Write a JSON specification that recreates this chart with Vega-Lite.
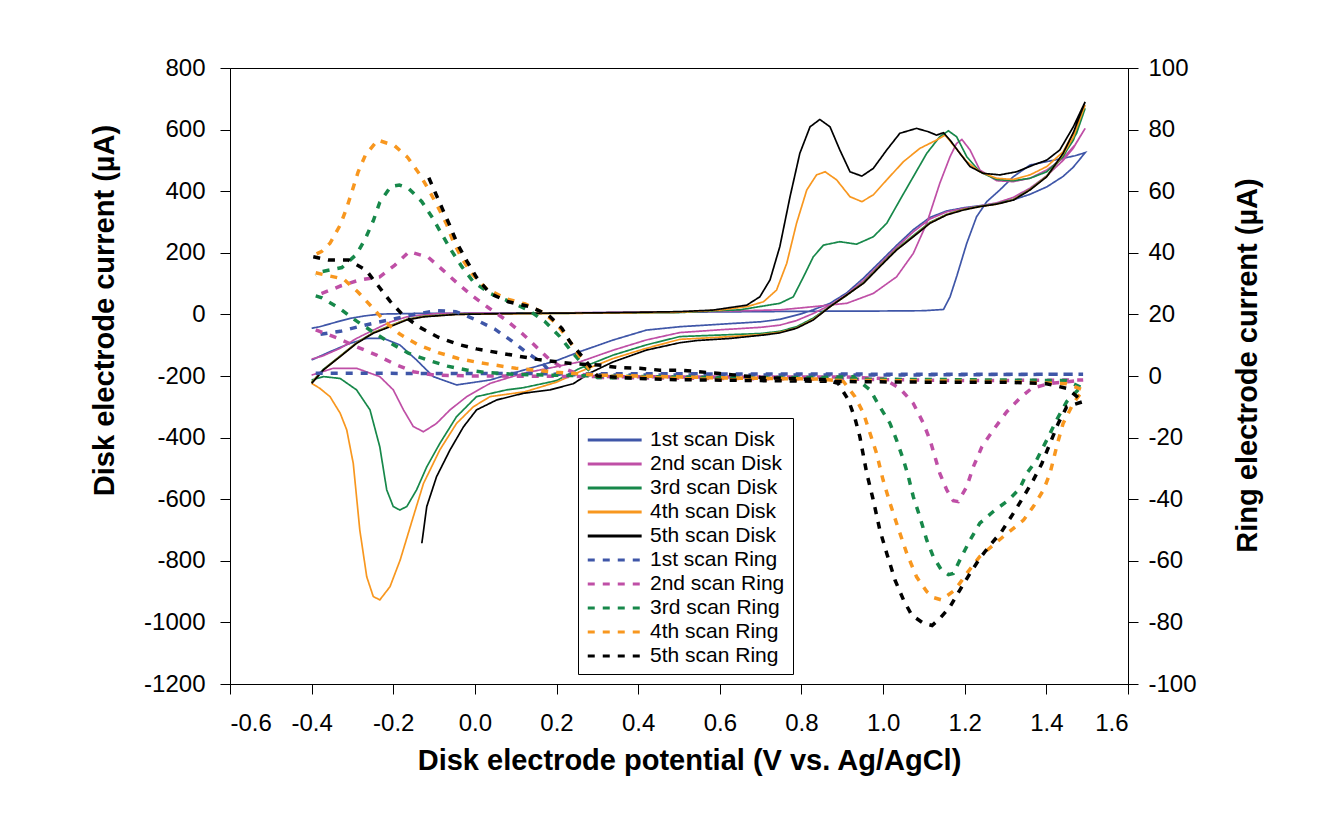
{
"$schema": "https://vega.github.io/schema/vega-lite/v6.json",
"width": 898, "height": 616,
"autosize": {"type": "none"},
"padding": {"left": 230, "top": 68, "right": 208, "bottom": 138},
"background": "white",
"datasets": {
"disk": [
{"s":"1st scan Disk","k":0,"v":-0.40,"c":-45},{"s":"1st scan Disk","k":1,"v":-0.38,"c":-40},{"s":"1st scan Disk","k":2,"v":-0.34,"c":-25},{"s":"1st scan Disk","k":3,"v":-0.306,"c":-13},{"s":"1st scan Disk","k":4,"v":-0.27,"c":-5},{"s":"1st scan Disk","k":5,"v":-0.233,"c":1},{"s":"1st scan Disk","k":6,"v":-0.15,"c":3},{"s":"1st scan Disk","k":7,"v":0.0,"c":4},{"s":"1st scan Disk","k":8,"v":0.2,"c":5},{"s":"1st scan Disk","k":9,"v":0.4,"c":6},{"s":"1st scan Disk","k":10,"v":0.6,"c":8},{"s":"1st scan Disk","k":11,"v":0.8,"c":10},{"s":"1st scan Disk","k":12,"v":1.0,"c":11},{"s":"1st scan Disk","k":13,"v":1.10,"c":12},{"s":"1st scan Disk","k":14,"v":1.148,"c":16},{"s":"1st scan Disk","k":15,"v":1.164,"c":57},{"s":"1st scan Disk","k":16,"v":1.18,"c":122},{"s":"1st scan Disk","k":17,"v":1.205,"c":231},{"s":"1st scan Disk","k":18,"v":1.229,"c":317},{"s":"1st scan Disk","k":19,"v":1.254,"c":366},{"s":"1st scan Disk","k":20,"v":1.286,"c":404},{"s":"1st scan Disk","k":21,"v":1.319,"c":447},{"s":"1st scan Disk","k":22,"v":1.36,"c":485},{"s":"1st scan Disk","k":23,"v":1.401,"c":496},{"s":"1st scan Disk","k":24,"v":1.441,"c":507},{"s":"1st scan Disk","k":25,"v":1.47,"c":515},{"s":"1st scan Disk","k":26,"v":1.495,"c":525},{"s":"1st scan Disk","k":27,"v":1.466,"c":478},{"s":"1st scan Disk","k":28,"v":1.441,"c":448},{"s":"1st scan Disk","k":29,"v":1.401,"c":414},{"s":"1st scan Disk","k":30,"v":1.36,"c":390},{"s":"1st scan Disk","k":31,"v":1.319,"c":372},{"s":"1st scan Disk","k":32,"v":1.278,"c":360},{"s":"1st scan Disk","k":33,"v":1.237,"c":353},{"s":"1st scan Disk","k":34,"v":1.197,"c":346},{"s":"1st scan Disk","k":35,"v":1.156,"c":336},{"s":"1st scan Disk","k":36,"v":1.115,"c":315},{"s":"1st scan Disk","k":37,"v":1.074,"c":275},{"s":"1st scan Disk","k":38,"v":1.033,"c":224},{"s":"1st scan Disk","k":39,"v":0.992,"c":170},{"s":"1st scan Disk","k":40,"v":0.952,"c":118},{"s":"1st scan Disk","k":41,"v":0.911,"c":70},{"s":"1st scan Disk","k":42,"v":0.87,"c":36},{"s":"1st scan Disk","k":43,"v":0.829,"c":15},{"s":"1st scan Disk","k":44,"v":0.8,"c":2},{"s":"1st scan Disk","k":45,"v":0.747,"c":-16},{"s":"1st scan Disk","k":46,"v":0.7,"c":-24},{"s":"1st scan Disk","k":47,"v":0.6,"c":-32},{"s":"1st scan Disk","k":48,"v":0.502,"c":-40},{"s":"1st scan Disk","k":49,"v":0.42,"c":-51},{"s":"1st scan Disk","k":50,"v":0.339,"c":-83},{"s":"1st scan Disk","k":51,"v":0.257,"c":-121},{"s":"1st scan Disk","k":52,"v":0.2,"c":-150},{"s":"1st scan Disk","k":53,"v":0.119,"c":-181},{"s":"1st scan Disk","k":54,"v":0.037,"c":-213},{"s":"1st scan Disk","k":55,"v":-0.045,"c":-229},{"s":"1st scan Disk","k":56,"v":-0.102,"c":-202},{"s":"1st scan Disk","k":57,"v":-0.143,"c":-148},{"s":"1st scan Disk","k":58,"v":-0.184,"c":-99},{"s":"1st scan Disk","k":59,"v":-0.224,"c":-78},{"s":"1st scan Disk","k":60,"v":-0.265,"c":-78},{"s":"1st scan Disk","k":61,"v":-0.306,"c":-94},{"s":"1st scan Disk","k":62,"v":-0.355,"c":-121},{"s":"1st scan Disk","k":63,"v":-0.40,"c":-148},

{"s":"2nd scan Disk","k":0,"v":-0.40,"c":-145},{"s":"2nd scan Disk","k":1,"v":-0.373,"c":-135},{"s":"2nd scan Disk","k":2,"v":-0.33,"c":-110},{"s":"2nd scan Disk","k":3,"v":-0.29,"c":-78},{"s":"2nd scan Disk","k":4,"v":-0.249,"c":-51},{"s":"2nd scan Disk","k":5,"v":-0.208,"c":-25},{"s":"2nd scan Disk","k":6,"v":-0.167,"c":-8},{"s":"2nd scan Disk","k":7,"v":-0.12,"c":0},{"s":"2nd scan Disk","k":8,"v":-0.086,"c":3},{"s":"2nd scan Disk","k":9,"v":0.0,"c":4},{"s":"2nd scan Disk","k":10,"v":0.2,"c":5},{"s":"2nd scan Disk","k":11,"v":0.4,"c":7},{"s":"2nd scan Disk","k":12,"v":0.6,"c":10},{"s":"2nd scan Disk","k":13,"v":0.75,"c":15},{"s":"2nd scan Disk","k":14,"v":0.829,"c":25},{"s":"2nd scan Disk","k":15,"v":0.911,"c":36},{"s":"2nd scan Disk","k":16,"v":0.976,"c":68},{"s":"2nd scan Disk","k":17,"v":1.033,"c":122},{"s":"2nd scan Disk","k":18,"v":1.074,"c":198},{"s":"2nd scan Disk","k":19,"v":1.107,"c":296},{"s":"2nd scan Disk","k":20,"v":1.139,"c":426},{"s":"2nd scan Disk","k":21,"v":1.164,"c":512},{"s":"2nd scan Disk","k":22,"v":1.18,"c":555},{"s":"2nd scan Disk","k":23,"v":1.193,"c":568},{"s":"2nd scan Disk","k":24,"v":1.213,"c":534},{"s":"2nd scan Disk","k":25,"v":1.237,"c":469},{"s":"2nd scan Disk","k":26,"v":1.278,"c":434},{"s":"2nd scan Disk","k":27,"v":1.319,"c":431},{"s":"2nd scan Disk","k":28,"v":1.36,"c":442},{"s":"2nd scan Disk","k":29,"v":1.401,"c":469},{"s":"2nd scan Disk","k":30,"v":1.441,"c":507},{"s":"2nd scan Disk","k":31,"v":1.47,"c":550},{"s":"2nd scan Disk","k":32,"v":1.495,"c":604},{"s":"2nd scan Disk","k":33,"v":1.466,"c":540},{"s":"2nd scan Disk","k":34,"v":1.441,"c":500},{"s":"2nd scan Disk","k":35,"v":1.401,"c":450},{"s":"2nd scan Disk","k":36,"v":1.36,"c":410},{"s":"2nd scan Disk","k":37,"v":1.319,"c":380},{"s":"2nd scan Disk","k":38,"v":1.278,"c":362},{"s":"2nd scan Disk","k":39,"v":1.237,"c":352},{"s":"2nd scan Disk","k":40,"v":1.197,"c":344},{"s":"2nd scan Disk","k":41,"v":1.156,"c":333},{"s":"2nd scan Disk","k":42,"v":1.115,"c":310},{"s":"2nd scan Disk","k":43,"v":1.074,"c":268},{"s":"2nd scan Disk","k":44,"v":1.033,"c":218},{"s":"2nd scan Disk","k":45,"v":0.992,"c":163},{"s":"2nd scan Disk","k":46,"v":0.952,"c":110},{"s":"2nd scan Disk","k":47,"v":0.911,"c":65},{"s":"2nd scan Disk","k":48,"v":0.87,"c":30},{"s":"2nd scan Disk","k":49,"v":0.829,"c":3},{"s":"2nd scan Disk","k":50,"v":0.788,"c":-20},{"s":"2nd scan Disk","k":51,"v":0.747,"c":-35},{"s":"2nd scan Disk","k":52,"v":0.7,"c":-42},{"s":"2nd scan Disk","k":53,"v":0.6,"c":-50},{"s":"2nd scan Disk","k":54,"v":0.502,"c":-59},{"s":"2nd scan Disk","k":55,"v":0.42,"c":-83},{"s":"2nd scan Disk","k":56,"v":0.339,"c":-116},{"s":"2nd scan Disk","k":57,"v":0.257,"c":-154},{"s":"2nd scan Disk","k":58,"v":0.18,"c":-175},{"s":"2nd scan Disk","k":59,"v":0.119,"c":-191},{"s":"2nd scan Disk","k":60,"v":0.037,"c":-224},{"s":"2nd scan Disk","k":61,"v":-0.02,"c":-267},{"s":"2nd scan Disk","k":62,"v":-0.061,"c":-310},{"s":"2nd scan Disk","k":63,"v":-0.094,"c":-354},{"s":"2nd scan Disk","k":64,"v":-0.126,"c":-381},{"s":"2nd scan Disk","k":65,"v":-0.151,"c":-364},{"s":"2nd scan Disk","k":66,"v":-0.175,"c":-310},{"s":"2nd scan Disk","k":67,"v":-0.2,"c":-245},{"s":"2nd scan Disk","k":68,"v":-0.233,"c":-202},{"s":"2nd scan Disk","k":69,"v":-0.29,"c":-175},{"s":"2nd scan Disk","k":70,"v":-0.347,"c":-175},{"s":"2nd scan Disk","k":71,"v":-0.40,"c":-197},

{"s":"3rd scan Disk","k":0,"v":-0.40,"c":-220},{"s":"3rd scan Disk","k":1,"v":-0.371,"c":-178},{"s":"3rd scan Disk","k":2,"v":-0.33,"c":-135},{"s":"3rd scan Disk","k":3,"v":-0.29,"c":-92},{"s":"3rd scan Disk","k":4,"v":-0.249,"c":-59},{"s":"3rd scan Disk","k":5,"v":-0.208,"c":-37},{"s":"3rd scan Disk","k":6,"v":-0.167,"c":-16},{"s":"3rd scan Disk","k":7,"v":-0.126,"c":-6},{"s":"3rd scan Disk","k":8,"v":-0.045,"c":1},{"s":"3rd scan Disk","k":9,"v":0.1,"c":3},{"s":"3rd scan Disk","k":10,"v":0.3,"c":4},{"s":"3rd scan Disk","k":11,"v":0.5,"c":6},{"s":"3rd scan Disk","k":12,"v":0.65,"c":15},{"s":"3rd scan Disk","k":13,"v":0.747,"c":36},{"s":"3rd scan Disk","k":14,"v":0.78,"c":57},{"s":"3rd scan Disk","k":15,"v":0.805,"c":122},{"s":"3rd scan Disk","k":16,"v":0.829,"c":187},{"s":"3rd scan Disk","k":17,"v":0.854,"c":225},{"s":"3rd scan Disk","k":18,"v":0.894,"c":236},{"s":"3rd scan Disk","k":19,"v":0.935,"c":228},{"s":"3rd scan Disk","k":20,"v":0.976,"c":252},{"s":"3rd scan Disk","k":21,"v":1.009,"c":296},{"s":"3rd scan Disk","k":22,"v":1.041,"c":371},{"s":"3rd scan Disk","k":23,"v":1.074,"c":447},{"s":"3rd scan Disk","k":24,"v":1.107,"c":523},{"s":"3rd scan Disk","k":25,"v":1.139,"c":577},{"s":"3rd scan Disk","k":26,"v":1.16,"c":596},{"s":"3rd scan Disk","k":27,"v":1.18,"c":577},{"s":"3rd scan Disk","k":28,"v":1.205,"c":512},{"s":"3rd scan Disk","k":29,"v":1.237,"c":463},{"s":"3rd scan Disk","k":30,"v":1.278,"c":438},{"s":"3rd scan Disk","k":31,"v":1.319,"c":434},{"s":"3rd scan Disk","k":32,"v":1.36,"c":442},{"s":"3rd scan Disk","k":33,"v":1.401,"c":463},{"s":"3rd scan Disk","k":34,"v":1.441,"c":512},{"s":"3rd scan Disk","k":35,"v":1.474,"c":588},{"s":"3rd scan Disk","k":36,"v":1.495,"c":669},{"s":"3rd scan Disk","k":37,"v":1.466,"c":565},{"s":"3rd scan Disk","k":38,"v":1.441,"c":515},{"s":"3rd scan Disk","k":39,"v":1.401,"c":449},{"s":"3rd scan Disk","k":40,"v":1.36,"c":406},{"s":"3rd scan Disk","k":41,"v":1.319,"c":373},{"s":"3rd scan Disk","k":42,"v":1.278,"c":359},{"s":"3rd scan Disk","k":43,"v":1.237,"c":351},{"s":"3rd scan Disk","k":44,"v":1.197,"c":341},{"s":"3rd scan Disk","k":45,"v":1.156,"c":325},{"s":"3rd scan Disk","k":46,"v":1.115,"c":299},{"s":"3rd scan Disk","k":47,"v":1.074,"c":256},{"s":"3rd scan Disk","k":48,"v":1.033,"c":212},{"s":"3rd scan Disk","k":49,"v":0.992,"c":158},{"s":"3rd scan Disk","k":50,"v":0.952,"c":104},{"s":"3rd scan Disk","k":51,"v":0.911,"c":62},{"s":"3rd scan Disk","k":52,"v":0.87,"c":26},{"s":"3rd scan Disk","k":53,"v":0.829,"c":-12},{"s":"3rd scan Disk","k":54,"v":0.788,"c":-40},{"s":"3rd scan Disk","k":55,"v":0.747,"c":-55},{"s":"3rd scan Disk","k":56,"v":0.7,"c":-62},{"s":"3rd scan Disk","k":57,"v":0.6,"c":-67},{"s":"3rd scan Disk","k":58,"v":0.502,"c":-72},{"s":"3rd scan Disk","k":59,"v":0.42,"c":-99},{"s":"3rd scan Disk","k":60,"v":0.339,"c":-132},{"s":"3rd scan Disk","k":61,"v":0.257,"c":-175},{"s":"3rd scan Disk","k":62,"v":0.2,"c":-215},{"s":"3rd scan Disk","k":63,"v":0.119,"c":-238},{"s":"3rd scan Disk","k":64,"v":0.078,"c":-245},{"s":"3rd scan Disk","k":65,"v":0.004,"c":-267},{"s":"3rd scan Disk","k":66,"v":-0.045,"c":-332},{"s":"3rd scan Disk","k":67,"v":-0.086,"c":-419},{"s":"3rd scan Disk","k":68,"v":-0.118,"c":-495},{"s":"3rd scan Disk","k":69,"v":-0.143,"c":-570},{"s":"3rd scan Disk","k":70,"v":-0.167,"c":-624},{"s":"3rd scan Disk","k":71,"v":-0.184,"c":-635},{"s":"3rd scan Disk","k":72,"v":-0.2,"c":-624},{"s":"3rd scan Disk","k":73,"v":-0.216,"c":-570},{"s":"3rd scan Disk","k":74,"v":-0.233,"c":-430},{"s":"3rd scan Disk","k":75,"v":-0.257,"c":-310},{"s":"3rd scan Disk","k":76,"v":-0.29,"c":-245},{"s":"3rd scan Disk","k":77,"v":-0.33,"c":-208},{"s":"3rd scan Disk","k":78,"v":-0.371,"c":-202},{"s":"3rd scan Disk","k":79,"v":-0.40,"c":-213},

{"s":"4th scan Disk","k":0,"v":-0.40,"c":-222},{"s":"4th scan Disk","k":1,"v":-0.371,"c":-180},{"s":"4th scan Disk","k":2,"v":-0.33,"c":-136},{"s":"4th scan Disk","k":3,"v":-0.29,"c":-93},{"s":"4th scan Disk","k":4,"v":-0.249,"c":-60},{"s":"4th scan Disk","k":5,"v":-0.208,"c":-38},{"s":"4th scan Disk","k":6,"v":-0.167,"c":-17},{"s":"4th scan Disk","k":7,"v":-0.126,"c":-7},{"s":"4th scan Disk","k":8,"v":-0.045,"c":0},{"s":"4th scan Disk","k":9,"v":0.1,"c":2},{"s":"4th scan Disk","k":10,"v":0.3,"c":4},{"s":"4th scan Disk","k":11,"v":0.5,"c":7},{"s":"4th scan Disk","k":12,"v":0.6,"c":14},{"s":"4th scan Disk","k":13,"v":0.666,"c":25},{"s":"4th scan Disk","k":14,"v":0.707,"c":41},{"s":"4th scan Disk","k":15,"v":0.739,"c":79},{"s":"4th scan Disk","k":16,"v":0.764,"c":166},{"s":"4th scan Disk","k":17,"v":0.788,"c":296},{"s":"4th scan Disk","k":18,"v":0.813,"c":404},{"s":"4th scan Disk","k":19,"v":0.837,"c":453},{"s":"4th scan Disk","k":20,"v":0.858,"c":463},{"s":"4th scan Disk","k":21,"v":0.886,"c":437},{"s":"4th scan Disk","k":22,"v":0.919,"c":382},{"s":"4th scan Disk","k":23,"v":0.948,"c":366},{"s":"4th scan Disk","k":24,"v":0.976,"c":388},{"s":"4th scan Disk","k":25,"v":1.009,"c":437},{"s":"4th scan Disk","k":26,"v":1.05,"c":496},{"s":"4th scan Disk","k":27,"v":1.09,"c":539},{"s":"4th scan Disk","k":28,"v":1.131,"c":566},{"s":"4th scan Disk","k":29,"v":1.152,"c":582},{"s":"4th scan Disk","k":30,"v":1.172,"c":550},{"s":"4th scan Disk","k":31,"v":1.205,"c":496},{"s":"4th scan Disk","k":32,"v":1.237,"c":463},{"s":"4th scan Disk","k":33,"v":1.278,"c":442},{"s":"4th scan Disk","k":34,"v":1.319,"c":438},{"s":"4th scan Disk","k":35,"v":1.36,"c":453},{"s":"4th scan Disk","k":36,"v":1.401,"c":480},{"s":"4th scan Disk","k":37,"v":1.441,"c":528},{"s":"4th scan Disk","k":38,"v":1.474,"c":609},{"s":"4th scan Disk","k":39,"v":1.495,"c":680},{"s":"4th scan Disk","k":40,"v":1.466,"c":575},{"s":"4th scan Disk","k":41,"v":1.441,"c":520},{"s":"4th scan Disk","k":42,"v":1.401,"c":448},{"s":"4th scan Disk","k":43,"v":1.36,"c":405},{"s":"4th scan Disk","k":44,"v":1.319,"c":372},{"s":"4th scan Disk","k":45,"v":1.278,"c":358},{"s":"4th scan Disk","k":46,"v":1.237,"c":350},{"s":"4th scan Disk","k":47,"v":1.197,"c":340},{"s":"4th scan Disk","k":48,"v":1.156,"c":324},{"s":"4th scan Disk","k":49,"v":1.115,"c":297},{"s":"4th scan Disk","k":50,"v":1.074,"c":253},{"s":"4th scan Disk","k":51,"v":1.033,"c":210},{"s":"4th scan Disk","k":52,"v":0.992,"c":156},{"s":"4th scan Disk","k":53,"v":0.952,"c":102},{"s":"4th scan Disk","k":54,"v":0.911,"c":63},{"s":"4th scan Disk","k":55,"v":0.87,"c":25},{"s":"4th scan Disk","k":56,"v":0.829,"c":-16},{"s":"4th scan Disk","k":57,"v":0.788,"c":-44},{"s":"4th scan Disk","k":58,"v":0.747,"c":-58},{"s":"4th scan Disk","k":59,"v":0.7,"c":-66},{"s":"4th scan Disk","k":60,"v":0.6,"c":-74},{"s":"4th scan Disk","k":61,"v":0.502,"c":-81},{"s":"4th scan Disk","k":62,"v":0.42,"c":-110},{"s":"4th scan Disk","k":63,"v":0.339,"c":-143},{"s":"4th scan Disk","k":64,"v":0.257,"c":-186},{"s":"4th scan Disk","k":65,"v":0.2,"c":-220},{"s":"4th scan Disk","k":66,"v":0.123,"c":-251},{"s":"4th scan Disk","k":67,"v":0.037,"c":-267},{"s":"4th scan Disk","k":68,"v":-0.004,"c":-300},{"s":"4th scan Disk","k":69,"v":-0.045,"c":-354},{"s":"4th scan Disk","k":70,"v":-0.086,"c":-440},{"s":"4th scan Disk","k":71,"v":-0.126,"c":-549},{"s":"4th scan Disk","k":72,"v":-0.151,"c":-657},{"s":"4th scan Disk","k":73,"v":-0.183,"c":-797},{"s":"4th scan Disk","k":74,"v":-0.208,"c":-884},{"s":"4th scan Disk","k":75,"v":-0.233,"c":-927},{"s":"4th scan Disk","k":76,"v":-0.249,"c":-916},{"s":"4th scan Disk","k":77,"v":-0.265,"c":-852},{"s":"4th scan Disk","k":78,"v":-0.282,"c":-700},{"s":"4th scan Disk","k":79,"v":-0.298,"c":-484},{"s":"4th scan Disk","k":80,"v":-0.314,"c":-375},{"s":"4th scan Disk","k":81,"v":-0.33,"c":-321},{"s":"4th scan Disk","k":82,"v":-0.355,"c":-267},{"s":"4th scan Disk","k":83,"v":-0.38,"c":-240},{"s":"4th scan Disk","k":84,"v":-0.40,"c":-224},

{"s":"5th scan Disk","k":0,"v":-0.40,"c":-224},{"s":"5th scan Disk","k":1,"v":-0.371,"c":-180},{"s":"5th scan Disk","k":2,"v":-0.33,"c":-137},{"s":"5th scan Disk","k":3,"v":-0.29,"c":-94},{"s":"5th scan Disk","k":4,"v":-0.249,"c":-61},{"s":"5th scan Disk","k":5,"v":-0.208,"c":-40},{"s":"5th scan Disk","k":6,"v":-0.167,"c":-18},{"s":"5th scan Disk","k":7,"v":-0.126,"c":-8},{"s":"5th scan Disk","k":8,"v":-0.045,"c":0},{"s":"5th scan Disk","k":9,"v":0.1,"c":3},{"s":"5th scan Disk","k":10,"v":0.3,"c":5},{"s":"5th scan Disk","k":11,"v":0.502,"c":9},{"s":"5th scan Disk","k":12,"v":0.583,"c":14},{"s":"5th scan Disk","k":13,"v":0.666,"c":30},{"s":"5th scan Disk","k":14,"v":0.698,"c":57},{"s":"5th scan Disk","k":15,"v":0.723,"c":112},{"s":"5th scan Disk","k":16,"v":0.747,"c":220},{"s":"5th scan Disk","k":17,"v":0.772,"c":382},{"s":"5th scan Disk","k":18,"v":0.796,"c":523},{"s":"5th scan Disk","k":19,"v":0.821,"c":609},{"s":"5th scan Disk","k":20,"v":0.845,"c":633},{"s":"5th scan Disk","k":21,"v":0.87,"c":609},{"s":"5th scan Disk","k":22,"v":0.894,"c":534},{"s":"5th scan Disk","k":23,"v":0.919,"c":463},{"s":"5th scan Disk","k":24,"v":0.948,"c":449},{"s":"5th scan Disk","k":25,"v":0.976,"c":474},{"s":"5th scan Disk","k":26,"v":1.009,"c":534},{"s":"5th scan Disk","k":27,"v":1.041,"c":588},{"s":"5th scan Disk","k":28,"v":1.082,"c":604},{"s":"5th scan Disk","k":29,"v":1.111,"c":593},{"s":"5th scan Disk","k":30,"v":1.131,"c":582},{"s":"5th scan Disk","k":31,"v":1.148,"c":590},{"s":"5th scan Disk","k":32,"v":1.164,"c":566},{"s":"5th scan Disk","k":33,"v":1.188,"c":523},{"s":"5th scan Disk","k":34,"v":1.213,"c":480},{"s":"5th scan Disk","k":35,"v":1.245,"c":458},{"s":"5th scan Disk","k":36,"v":1.286,"c":453},{"s":"5th scan Disk","k":37,"v":1.327,"c":463},{"s":"5th scan Disk","k":38,"v":1.368,"c":485},{"s":"5th scan Disk","k":39,"v":1.401,"c":501},{"s":"5th scan Disk","k":40,"v":1.433,"c":534},{"s":"5th scan Disk","k":41,"v":1.466,"c":609},{"s":"5th scan Disk","k":42,"v":1.495,"c":690},{"s":"5th scan Disk","k":43,"v":1.466,"c":590},{"s":"5th scan Disk","k":44,"v":1.441,"c":523},{"s":"5th scan Disk","k":45,"v":1.401,"c":447},{"s":"5th scan Disk","k":46,"v":1.36,"c":404},{"s":"5th scan Disk","k":47,"v":1.319,"c":371},{"s":"5th scan Disk","k":48,"v":1.278,"c":358},{"s":"5th scan Disk","k":49,"v":1.237,"c":350},{"s":"5th scan Disk","k":50,"v":1.197,"c":339},{"s":"5th scan Disk","k":51,"v":1.156,"c":323},{"s":"5th scan Disk","k":52,"v":1.115,"c":296},{"s":"5th scan Disk","k":53,"v":1.074,"c":252},{"s":"5th scan Disk","k":54,"v":1.033,"c":209},{"s":"5th scan Disk","k":55,"v":0.992,"c":155},{"s":"5th scan Disk","k":56,"v":0.952,"c":101},{"s":"5th scan Disk","k":57,"v":0.911,"c":63},{"s":"5th scan Disk","k":58,"v":0.87,"c":25},{"s":"5th scan Disk","k":59,"v":0.829,"c":-18},{"s":"5th scan Disk","k":60,"v":0.788,"c":-45},{"s":"5th scan Disk","k":61,"v":0.747,"c":-60},{"s":"5th scan Disk","k":62,"v":0.707,"c":-67},{"s":"5th scan Disk","k":63,"v":0.625,"c":-78},{"s":"5th scan Disk","k":64,"v":0.543,"c":-85},{"s":"5th scan Disk","k":65,"v":0.502,"c":-92},{"s":"5th scan Disk","k":66,"v":0.42,"c":-116},{"s":"5th scan Disk","k":67,"v":0.339,"c":-154},{"s":"5th scan Disk","k":68,"v":0.282,"c":-190},{"s":"5th scan Disk","k":69,"v":0.241,"c":-225},{"s":"5th scan Disk","k":70,"v":0.184,"c":-245},{"s":"5th scan Disk","k":71,"v":0.119,"c":-256},{"s":"5th scan Disk","k":72,"v":0.053,"c":-278},{"s":"5th scan Disk","k":73,"v":0.004,"c":-310},{"s":"5th scan Disk","k":74,"v":-0.028,"c":-365},{"s":"5th scan Disk","k":75,"v":-0.061,"c":-440},{"s":"5th scan Disk","k":76,"v":-0.094,"c":-527},{"s":"5th scan Disk","k":77,"v":-0.118,"c":-624},{"s":"5th scan Disk","k":78,"v":-0.13,"c":-743}
],
"ring": [
{"s":"1st scan Ring","k":0,"v":-0.39,"c":0.9},{"s":"1st scan Ring","k":1,"v":0.0,"c":0.8},{"s":"1st scan Ring","k":2,"v":0.5,"c":0.7},{"s":"1st scan Ring","k":3,"v":1.0,"c":0.6},{"s":"1st scan Ring","k":4,"v":1.49,"c":0.6},{"s":"1st scan Ring","k":5,"v":1.0,"c":0.3},{"s":"1st scan Ring","k":6,"v":0.5,"c":0.3},{"s":"1st scan Ring","k":7,"v":0.25,"c":0.4},{"s":"1st scan Ring","k":8,"v":0.19,"c":0.6},{"s":"1st scan Ring","k":9,"v":0.164,"c":4.3},{"s":"1st scan Ring","k":10,"v":0.127,"c":7.6},{"s":"1st scan Ring","k":11,"v":0.09,"c":11.4},{"s":"1st scan Ring","k":12,"v":0.049,"c":15.2},{"s":"1st scan Ring","k":13,"v":0.0,"c":18.4},{"s":"1st scan Ring","k":14,"v":-0.047,"c":20.9},{"s":"1st scan Ring","k":15,"v":-0.094,"c":21.2},{"s":"1st scan Ring","k":16,"v":-0.15,"c":20},{"s":"1st scan Ring","k":17,"v":-0.2,"c":18.5},{"s":"1st scan Ring","k":18,"v":-0.27,"c":16.5},{"s":"1st scan Ring","k":19,"v":-0.33,"c":14.5},{"s":"1st scan Ring","k":20,"v":-0.38,"c":13.5},

{"s":"2nd scan Ring","k":0,"v":-0.39,"c":15},{"s":"2nd scan Ring","k":1,"v":-0.335,"c":12.2},{"s":"2nd scan Ring","k":2,"v":-0.29,"c":9.5},{"s":"2nd scan Ring","k":3,"v":-0.241,"c":6.8},{"s":"2nd scan Ring","k":4,"v":-0.197,"c":3.9},{"s":"2nd scan Ring","k":5,"v":-0.151,"c":1.4},{"s":"2nd scan Ring","k":6,"v":-0.1,"c":0.3},{"s":"2nd scan Ring","k":7,"v":0.0,"c":0},{"s":"2nd scan Ring","k":8,"v":0.5,"c":-0.3},{"s":"2nd scan Ring","k":9,"v":0.9,"c":-0.3},{"s":"2nd scan Ring","k":10,"v":1.0,"c":-0.8},{"s":"2nd scan Ring","k":11,"v":1.041,"c":-4},{"s":"2nd scan Ring","k":12,"v":1.074,"c":-8.9},{"s":"2nd scan Ring","k":13,"v":1.099,"c":-15.4},{"s":"2nd scan Ring","k":14,"v":1.115,"c":-20.8},{"s":"2nd scan Ring","k":15,"v":1.127,"c":-26.2},{"s":"2nd scan Ring","k":16,"v":1.139,"c":-31.6},{"s":"2nd scan Ring","k":17,"v":1.156,"c":-37},{"s":"2nd scan Ring","k":18,"v":1.172,"c":-40.5},{"s":"2nd scan Ring","k":19,"v":1.184,"c":-40.8},{"s":"2nd scan Ring","k":20,"v":1.205,"c":-35.9},{"s":"2nd scan Ring","k":21,"v":1.221,"c":-29.5},{"s":"2nd scan Ring","k":22,"v":1.242,"c":-23},{"s":"2nd scan Ring","k":23,"v":1.27,"c":-17.5},{"s":"2nd scan Ring","k":24,"v":1.303,"c":-11.6},{"s":"2nd scan Ring","k":25,"v":1.335,"c":-7.2},{"s":"2nd scan Ring","k":26,"v":1.364,"c":-4},{"s":"2nd scan Ring","k":27,"v":1.409,"c":-2.4},{"s":"2nd scan Ring","k":28,"v":1.458,"c":-1.8},{"s":"2nd scan Ring","k":29,"v":1.49,"c":-1.3},{"s":"2nd scan Ring","k":30,"v":1.2,"c":-1.5},{"s":"2nd scan Ring","k":31,"v":0.9,"c":-1},{"s":"2nd scan Ring","k":32,"v":0.6,"c":-0.8},{"s":"2nd scan Ring","k":33,"v":0.3,"c":-0.5},{"s":"2nd scan Ring","k":34,"v":0.249,"c":0.9},{"s":"2nd scan Ring","k":35,"v":0.217,"c":2.5},{"s":"2nd scan Ring","k":36,"v":0.184,"c":5.2},{"s":"2nd scan Ring","k":37,"v":0.15,"c":9.5},{"s":"2nd scan Ring","k":38,"v":0.115,"c":13.9},{"s":"2nd scan Ring","k":39,"v":0.076,"c":18.2},{"s":"2nd scan Ring","k":40,"v":0.035,"c":22},{"s":"2nd scan Ring","k":41,"v":-0.004,"c":25.8},{"s":"2nd scan Ring","k":42,"v":-0.041,"c":29.9},{"s":"2nd scan Ring","k":43,"v":-0.077,"c":34.2},{"s":"2nd scan Ring","k":44,"v":-0.114,"c":38.5},{"s":"2nd scan Ring","k":45,"v":-0.161,"c":40.4},{"s":"2nd scan Ring","k":46,"v":-0.196,"c":36},{"s":"2nd scan Ring","k":47,"v":-0.233,"c":32.2},{"s":"2nd scan Ring","k":48,"v":-0.282,"c":31.2},{"s":"2nd scan Ring","k":49,"v":-0.328,"c":29.3},{"s":"2nd scan Ring","k":50,"v":-0.375,"c":26.8},{"s":"2nd scan Ring","k":51,"v":-0.39,"c":26},

{"s":"3rd scan Ring","k":0,"v":-0.39,"c":26},{"s":"3rd scan Ring","k":1,"v":-0.375,"c":25.4},{"s":"3rd scan Ring","k":2,"v":-0.33,"c":21.8},{"s":"3rd scan Ring","k":3,"v":-0.294,"c":18.2},{"s":"3rd scan Ring","k":4,"v":-0.251,"c":14.4},{"s":"3rd scan Ring","k":5,"v":-0.208,"c":10.8},{"s":"3rd scan Ring","k":6,"v":-0.163,"c":7.4},{"s":"3rd scan Ring","k":7,"v":-0.116,"c":5.2},{"s":"3rd scan Ring","k":8,"v":-0.067,"c":3.2},{"s":"3rd scan Ring","k":9,"v":-0.018,"c":1.9},{"s":"3rd scan Ring","k":10,"v":0.031,"c":1.1},{"s":"3rd scan Ring","k":11,"v":0.1,"c":0.5},{"s":"3rd scan Ring","k":12,"v":0.3,"c":0},{"s":"3rd scan Ring","k":13,"v":0.6,"c":-0.5},{"s":"3rd scan Ring","k":14,"v":0.85,"c":-0.5},{"s":"3rd scan Ring","k":15,"v":0.927,"c":-0.2},{"s":"3rd scan Ring","k":16,"v":0.968,"c":-4.5},{"s":"3rd scan Ring","k":17,"v":0.992,"c":-10},{"s":"3rd scan Ring","k":18,"v":1.017,"c":-15.4},{"s":"3rd scan Ring","k":19,"v":1.033,"c":-20.8},{"s":"3rd scan Ring","k":20,"v":1.05,"c":-27.3},{"s":"3rd scan Ring","k":21,"v":1.062,"c":-32.7},{"s":"3rd scan Ring","k":22,"v":1.074,"c":-39.2},{"s":"3rd scan Ring","k":23,"v":1.09,"c":-45.7},{"s":"3rd scan Ring","k":24,"v":1.107,"c":-53.3},{"s":"3rd scan Ring","k":25,"v":1.123,"c":-58.7},{"s":"3rd scan Ring","k":26,"v":1.143,"c":-63},{"s":"3rd scan Ring","k":27,"v":1.16,"c":-64.5},{"s":"3rd scan Ring","k":28,"v":1.172,"c":-64.1},{"s":"3rd scan Ring","k":29,"v":1.192,"c":-58.7},{"s":"3rd scan Ring","k":30,"v":1.213,"c":-53.3},{"s":"3rd scan Ring","k":31,"v":1.237,"c":-47.8},{"s":"3rd scan Ring","k":32,"v":1.27,"c":-44},{"s":"3rd scan Ring","k":33,"v":1.307,"c":-40.3},{"s":"3rd scan Ring","k":34,"v":1.335,"c":-36.5},{"s":"3rd scan Ring","k":35,"v":1.352,"c":-31.6},{"s":"3rd scan Ring","k":36,"v":1.376,"c":-27.3},{"s":"3rd scan Ring","k":37,"v":1.401,"c":-20.8},{"s":"3rd scan Ring","k":38,"v":1.425,"c":-14.3},{"s":"3rd scan Ring","k":39,"v":1.45,"c":-8.3},{"s":"3rd scan Ring","k":40,"v":1.478,"c":-4.5},{"s":"3rd scan Ring","k":41,"v":1.49,"c":-4},{"s":"3rd scan Ring","k":42,"v":1.45,"c":-1.5},{"s":"3rd scan Ring","k":43,"v":1.2,"c":-1.2},{"s":"3rd scan Ring","k":44,"v":0.9,"c":-1},{"s":"3rd scan Ring","k":45,"v":0.6,"c":-0.8},{"s":"3rd scan Ring","k":46,"v":0.3,"c":-0.5},{"s":"3rd scan Ring","k":47,"v":0.262,"c":4.1},{"s":"3rd scan Ring","k":48,"v":0.237,"c":7.9},{"s":"3rd scan Ring","k":49,"v":0.208,"c":12.8},{"s":"3rd scan Ring","k":50,"v":0.172,"c":17.6},{"s":"3rd scan Ring","k":51,"v":0.131,"c":21.4},{"s":"3rd scan Ring","k":52,"v":0.086,"c":24.1},{"s":"3rd scan Ring","k":53,"v":0.037,"c":26.8},{"s":"3rd scan Ring","k":54,"v":-0.004,"c":30.6},{"s":"3rd scan Ring","k":55,"v":-0.032,"c":35.5},{"s":"3rd scan Ring","k":56,"v":-0.057,"c":40.6},{"s":"3rd scan Ring","k":57,"v":-0.081,"c":46},{"s":"3rd scan Ring","k":58,"v":-0.104,"c":51.4},{"s":"3rd scan Ring","k":59,"v":-0.13,"c":56.6},{"s":"3rd scan Ring","k":60,"v":-0.163,"c":61},{"s":"3rd scan Ring","k":61,"v":-0.185,"c":62},{"s":"3rd scan Ring","k":62,"v":-0.206,"c":61.5},{"s":"3rd scan Ring","k":63,"v":-0.233,"c":56.4},{"s":"3rd scan Ring","k":64,"v":-0.249,"c":50.4},{"s":"3rd scan Ring","k":65,"v":-0.268,"c":44.7},{"s":"3rd scan Ring","k":66,"v":-0.29,"c":39.5},{"s":"3rd scan Ring","k":67,"v":-0.326,"c":35.2},{"s":"3rd scan Ring","k":68,"v":-0.375,"c":33.9},{"s":"3rd scan Ring","k":69,"v":-0.39,"c":32.6},

{"s":"4th scan Ring","k":0,"v":-0.39,"c":33.5},{"s":"4th scan Ring","k":1,"v":-0.367,"c":32.8},{"s":"4th scan Ring","k":2,"v":-0.322,"c":31.5},{"s":"4th scan Ring","k":3,"v":-0.286,"c":27.2},{"s":"4th scan Ring","k":4,"v":-0.253,"c":22.5},{"s":"4th scan Ring","k":5,"v":-0.22,"c":17.6},{"s":"4th scan Ring","k":6,"v":-0.184,"c":13.6},{"s":"4th scan Ring","k":7,"v":-0.139,"c":10.1},{"s":"4th scan Ring","k":8,"v":-0.09,"c":7.6},{"s":"4th scan Ring","k":9,"v":-0.041,"c":5.7},{"s":"4th scan Ring","k":10,"v":0.007,"c":4.4},{"s":"4th scan Ring","k":11,"v":0.1,"c":2.5},{"s":"4th scan Ring","k":12,"v":0.2,"c":1.2},{"s":"4th scan Ring","k":13,"v":0.3,"c":0.3},{"s":"4th scan Ring","k":14,"v":0.6,"c":-0.6},{"s":"4th scan Ring","k":15,"v":0.85,"c":-1},{"s":"4th scan Ring","k":16,"v":0.903,"c":-1.8},{"s":"4th scan Ring","k":17,"v":0.931,"c":-6.7},{"s":"4th scan Ring","k":18,"v":0.952,"c":-12.1},{"s":"4th scan Ring","k":19,"v":0.968,"c":-18.6},{"s":"4th scan Ring","k":20,"v":0.984,"c":-25.1},{"s":"4th scan Ring","k":21,"v":1.0,"c":-33.8},{"s":"4th scan Ring","k":22,"v":1.017,"c":-41.3},{"s":"4th scan Ring","k":23,"v":1.033,"c":-47.8},{"s":"4th scan Ring","k":24,"v":1.058,"c":-57.6},{"s":"4th scan Ring","k":25,"v":1.082,"c":-65.2},{"s":"4th scan Ring","k":26,"v":1.107,"c":-70},{"s":"4th scan Ring","k":27,"v":1.125,"c":-72},{"s":"4th scan Ring","k":28,"v":1.143,"c":-72.7},{"s":"4th scan Ring","k":29,"v":1.176,"c":-69.5},{"s":"4th scan Ring","k":30,"v":1.205,"c":-64.1},{"s":"4th scan Ring","k":31,"v":1.237,"c":-58.6},{"s":"4th scan Ring","k":32,"v":1.294,"c":-52.2},{"s":"4th scan Ring","k":33,"v":1.344,"c":-46.8},{"s":"4th scan Ring","k":34,"v":1.368,"c":-42.4},{"s":"4th scan Ring","k":35,"v":1.393,"c":-37},{"s":"4th scan Ring","k":36,"v":1.409,"c":-31.6},{"s":"4th scan Ring","k":37,"v":1.425,"c":-23},{"s":"4th scan Ring","k":38,"v":1.441,"c":-15.4},{"s":"4th scan Ring","k":39,"v":1.466,"c":-8.9},{"s":"4th scan Ring","k":40,"v":1.49,"c":-4.5},{"s":"4th scan Ring","k":41,"v":1.45,"c":-2.5},{"s":"4th scan Ring","k":42,"v":1.3,"c":-1.8},{"s":"4th scan Ring","k":43,"v":1.0,"c":-1.5},{"s":"4th scan Ring","k":44,"v":0.6,"c":-1.2},{"s":"4th scan Ring","k":45,"v":0.3,"c":0},{"s":"4th scan Ring","k":46,"v":0.282,"c":1.9},{"s":"4th scan Ring","k":47,"v":0.257,"c":6.3},{"s":"4th scan Ring","k":48,"v":0.233,"c":11.1},{"s":"4th scan Ring","k":49,"v":0.2,"c":17},{"s":"4th scan Ring","k":50,"v":0.168,"c":20.5},{"s":"4th scan Ring","k":51,"v":0.123,"c":23.4},{"s":"4th scan Ring","k":52,"v":0.074,"c":25.2},{"s":"4th scan Ring","k":53,"v":0.027,"c":28.5},{"s":"4th scan Ring","k":54,"v":-0.008,"c":33.3},{"s":"4th scan Ring","k":55,"v":-0.032,"c":38.2},{"s":"4th scan Ring","k":56,"v":-0.053,"c":43.6},{"s":"4th scan Ring","k":57,"v":-0.069,"c":49.2},{"s":"4th scan Ring","k":58,"v":-0.091,"c":55},{"s":"4th scan Ring","k":59,"v":-0.114,"c":60.7},{"s":"4th scan Ring","k":60,"v":-0.137,"c":65.8},{"s":"4th scan Ring","k":61,"v":-0.165,"c":71},{"s":"4th scan Ring","k":62,"v":-0.197,"c":74.8},{"s":"4th scan Ring","k":63,"v":-0.238,"c":76.6},{"s":"4th scan Ring","k":64,"v":-0.268,"c":71.8},{"s":"4th scan Ring","k":65,"v":-0.286,"c":66.3},{"s":"4th scan Ring","k":66,"v":-0.3,"c":60.4},{"s":"4th scan Ring","k":67,"v":-0.314,"c":54.6},{"s":"4th scan Ring","k":68,"v":-0.33,"c":49},{"s":"4th scan Ring","k":69,"v":-0.355,"c":43.1},{"s":"4th scan Ring","k":70,"v":-0.375,"c":40.5},{"s":"4th scan Ring","k":71,"v":-0.39,"c":39.5},

{"s":"5th scan Ring","k":0,"v":-0.396,"c":38.7},{"s":"5th scan Ring","k":1,"v":-0.359,"c":37.7},{"s":"5th scan Ring","k":2,"v":-0.31,"c":37.7},{"s":"5th scan Ring","k":3,"v":-0.267,"c":34.4},{"s":"5th scan Ring","k":4,"v":-0.237,"c":29.3},{"s":"5th scan Ring","k":5,"v":-0.208,"c":24.3},{"s":"5th scan Ring","k":6,"v":-0.175,"c":19.6},{"s":"5th scan Ring","k":7,"v":-0.135,"c":15.8},{"s":"5th scan Ring","k":8,"v":-0.09,"c":12.6},{"s":"5th scan Ring","k":9,"v":-0.042,"c":10.3},{"s":"5th scan Ring","k":10,"v":0.004,"c":8.8},{"s":"5th scan Ring","k":11,"v":0.055,"c":7.6},{"s":"5th scan Ring","k":12,"v":0.104,"c":6.5},{"s":"5th scan Ring","k":13,"v":0.153,"c":5.4},{"s":"5th scan Ring","k":14,"v":0.2,"c":4.6},{"s":"5th scan Ring","k":15,"v":0.249,"c":3.9},{"s":"5th scan Ring","k":16,"v":0.302,"c":3.6},{"s":"5th scan Ring","k":17,"v":0.347,"c":2.8},{"s":"5th scan Ring","k":18,"v":0.404,"c":2.5},{"s":"5th scan Ring","k":19,"v":0.453,"c":1.9},{"s":"5th scan Ring","k":20,"v":0.502,"c":1.9},{"s":"5th scan Ring","k":21,"v":0.6,"c":0.8},{"s":"5th scan Ring","k":22,"v":0.7,"c":-0.5},{"s":"5th scan Ring","k":23,"v":0.8,"c":-1},{"s":"5th scan Ring","k":24,"v":0.86,"c":-1.2},{"s":"5th scan Ring","k":25,"v":0.89,"c":-2.4},{"s":"5th scan Ring","k":26,"v":0.915,"c":-7.8},{"s":"5th scan Ring","k":27,"v":0.931,"c":-13.7},{"s":"5th scan Ring","k":28,"v":0.943,"c":-19.7},{"s":"5th scan Ring","k":29,"v":0.96,"c":-31.6},{"s":"5th scan Ring","k":30,"v":0.976,"c":-40.3},{"s":"5th scan Ring","k":31,"v":0.992,"c":-50},{"s":"5th scan Ring","k":32,"v":1.009,"c":-57.6},{"s":"5th scan Ring","k":33,"v":1.029,"c":-66.2},{"s":"5th scan Ring","k":34,"v":1.05,"c":-72.7},{"s":"5th scan Ring","k":35,"v":1.07,"c":-77.6},{"s":"5th scan Ring","k":36,"v":1.099,"c":-80.3},{"s":"5th scan Ring","k":37,"v":1.12,"c":-81},{"s":"5th scan Ring","k":38,"v":1.139,"c":-78.7},{"s":"5th scan Ring","k":39,"v":1.164,"c":-74.9},{"s":"5th scan Ring","k":40,"v":1.188,"c":-69.5},{"s":"5th scan Ring","k":41,"v":1.213,"c":-64.1},{"s":"5th scan Ring","k":42,"v":1.237,"c":-59.2},{"s":"5th scan Ring","k":43,"v":1.262,"c":-54.9},{"s":"5th scan Ring","k":44,"v":1.29,"c":-50.6},{"s":"5th scan Ring","k":45,"v":1.319,"c":-44.6},{"s":"5th scan Ring","k":46,"v":1.344,"c":-39.2},{"s":"5th scan Ring","k":47,"v":1.368,"c":-33.8},{"s":"5th scan Ring","k":48,"v":1.389,"c":-28.4},{"s":"5th scan Ring","k":49,"v":1.409,"c":-21.9},{"s":"5th scan Ring","k":50,"v":1.429,"c":-15.4},{"s":"5th scan Ring","k":51,"v":1.45,"c":-10},{"s":"5th scan Ring","k":52,"v":1.49,"c":-8.3},{"s":"5th scan Ring","k":53,"v":1.45,"c":-4},{"s":"5th scan Ring","k":54,"v":1.4,"c":-2.5},{"s":"5th scan Ring","k":55,"v":1.3,"c":-2},{"s":"5th scan Ring","k":56,"v":1.1,"c":-2},{"s":"5th scan Ring","k":57,"v":0.9,"c":-1.8},{"s":"5th scan Ring","k":58,"v":0.7,"c":-1.5},{"s":"5th scan Ring","k":59,"v":0.5,"c":-1.2},{"s":"5th scan Ring","k":60,"v":0.4,"c":-0.8},{"s":"5th scan Ring","k":61,"v":0.3,"c":0},{"s":"5th scan Ring","k":62,"v":0.27,"c":5.2},{"s":"5th scan Ring","k":63,"v":0.233,"c":11.1},{"s":"5th scan Ring","k":64,"v":0.213,"c":15.5},{"s":"5th scan Ring","k":65,"v":0.18,"c":19.8},{"s":"5th scan Ring","k":66,"v":0.135,"c":22.5},{"s":"5th scan Ring","k":67,"v":0.082,"c":24.1},{"s":"5th scan Ring","k":68,"v":0.037,"c":26.8},{"s":"5th scan Ring","k":69,"v":0.004,"c":32},{"s":"5th scan Ring","k":70,"v":-0.02,"c":37.4},{"s":"5th scan Ring","k":71,"v":-0.043,"c":42.9},{"s":"5th scan Ring","k":72,"v":-0.061,"c":48.7},{"s":"5th scan Ring","k":73,"v":-0.079,"c":54.1},{"s":"5th scan Ring","k":74,"v":-0.098,"c":59.8},{"s":"5th scan Ring","k":75,"v":-0.117,"c":65.6}
]
},
"encoding": {
  "x": {"field": "v", "type": "quantitative",
    "scale": {"domain": [-0.6, 1.6], "nice": false, "zero": false},
    "axis": {"title": "Disk electrode potential (V vs. Ag/AgCl)", "values": [-0.6,-0.4,-0.2,0,0.2,0.4,0.6,0.8,1.0,1.2,1.4,1.6], "format": ".1f",
      "titleX": 459, "titleY": 76, "titleBaseline": "middle", "labelPadding": 17}
  },
  "color": {"field": "s", "type": "nominal", "title": null,
    "scale": {"domain": ["1st scan Disk","2nd scan Disk","3rd scan Disk","4th scan Disk","5th scan Disk","1st scan Ring","2nd scan Ring","3rd scan Ring","4th scan Ring","5th scan Ring"],
              "range": ["#3f56a8","#bf4fa6","#17884a","#f8971f","#000000","#3f56a8","#bf4fa6","#17884a","#f8971f","#000000"]}},
  "strokeDash": {"field": "s", "type": "nominal", "title": null,
    "scale": {"domain": ["1st scan Disk","2nd scan Disk","3rd scan Disk","4th scan Disk","5th scan Disk","1st scan Ring","2nd scan Ring","3rd scan Ring","4th scan Ring","5th scan Ring"],
              "range": [[1,0],[1,0],[1,0],[1,0],[1,0],[7,8],[7,8],[7,8],[7,8],[7,8]]}},
  "order": {"field": "k", "type": "quantitative"}
},
"layer": [
  {"data": {"name": "disk"},
   "mark": {"type": "line", "strokeWidth": 1.7},
   "encoding": {"y": {"field": "c", "type": "quantitative",
      "scale": {"domain": [-1200, 800], "nice": false, "zero": false},
      "axis": {"orient": "left", "title": "Disk electrode current (µA)", "format": "d", "values": [-1200,-1000,-800,-600,-400,-200,0,200,400,600,800],
        "titleX": -126, "titleY": 242, "titleBaseline": "middle", "titleAngle": 270, "labelPadding": 15}}}},
  {"data": {"name": "ring"},
   "mark": {"type": "line", "strokeWidth": 3.5},
   "encoding": {"y": {"field": "c", "type": "quantitative",
      "scale": {"domain": [-100, 100], "nice": false, "zero": false},
      "axis": {"orient": "right", "title": "Ring electrode current  (µA)", "format": "d", "values": [-100,-80,-60,-40,-20,0,20,40,60,80,100],
        "titleX": 119, "titleY": 297, "titleBaseline": "middle", "titleAngle": 270, "labelPadding": 10}}}}
],
"resolve": {"scale": {"y": "independent"}},
"config": {
  "font": "Liberation Sans",
  "locale": {"number": {"decimal": ".", "thousands": ",", "grouping": [3], "currency": ["$", ""], "minus": "-"}},
  "view": {"stroke": "#000000", "strokeWidth": 1},
  "axis": {"grid": false, "domainColor": "#000000", "tickColor": "#000000", "tickSize": 10, "labelFontSize": 24, "labelColor": "#000000",
           "titleFontSize": 29, "titleFontWeight": "bold", "titleColor": "#000000", "labelFont": "Liberation Sans", "titleFont": "Liberation Sans"},
  "legend": {"orient": "none", "legendX": 348, "legendY": 350, "strokeColor": "#000000", "fillColor": "#ffffff", "padding": 8,
             "labelFontSize": 21, "labelFont": "Liberation Sans", "labelColor": "#000000", "symbolType": "M-1,0H3.4", "symbolSize": 600,
             "symbolStrokeWidth": 3, "rowPadding": 0, "labelOffset": 36, "labelLimit": 400, "cornerRadius": 0}
}
}
